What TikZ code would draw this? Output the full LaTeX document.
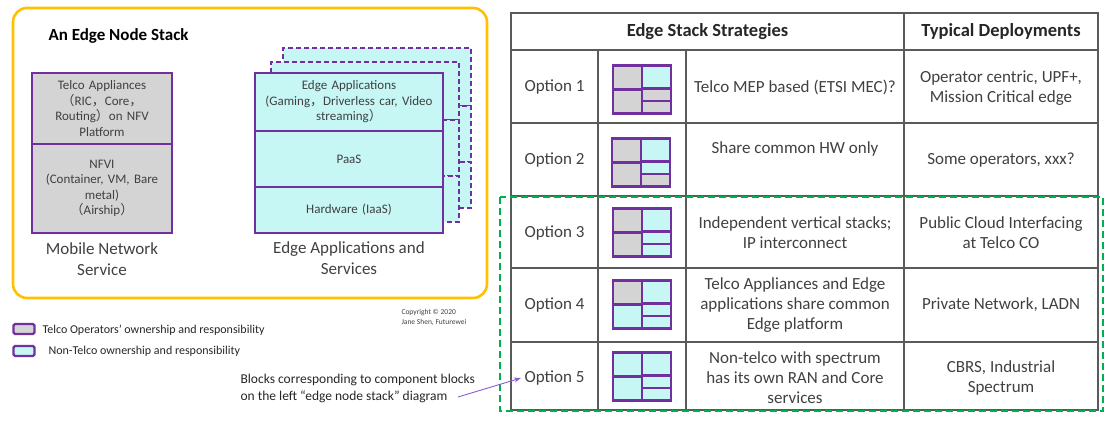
\documentclass[tikz,border=0pt]{standalone}
\usepackage{fontspec}
\setmainfont{Carlito}
\newfontfamily\cjk{Noto Sans CJK SC}
\usepackage{xcolor}
\usepackage{tikz}
\usetikzlibrary{arrows.meta,positioning,calc,backgrounds}

\definecolor{stackpurple}{HTML}{7030A0}
\definecolor{telcogray}{HTML}{D4D4D4}
\definecolor{edgecyan}{HTML}{C6F7F5}
\definecolor{framegold}{HTML}{FFC000}
\definecolor{focusgreen}{HTML}{00B050}
\definecolor{tableline}{HTML}{5A5A5A}
\definecolor{textgray}{HTML}{404040}
\definecolor{textdark}{HTML}{262626}
\definecolor{pointerpurple}{HTML}{8A5CD0}

% full-width punctuation
\newcommand{\fw}[1]{{\cjk #1}}

% small stack icon: centre, then fills of left top, left bottom, right top, right middle, right bottom
\newcommand{\stackicon}[6]{%
  \begin{scope}[shift={#1}]
    \filldraw[iconline, fill=#2] (-29,-24) rectangle (0,0);
    \filldraw[iconline, fill=#3] (-29,0) rectangle (0,24);
    \filldraw[iconline, fill=#4] (0,-24) rectangle (29,-1);
    \filldraw[iconline, fill=#5] (0,-1) rectangle (29,11.5);
    \filldraw[iconline, fill=#6] (0,11.5) rectangle (29,24);
  \end{scope}}

\begin{document}
\begin{tikzpicture}[
    x=1pt, y=-1pt,
    frame/.style={draw=framegold, line width=2.6pt, rounded corners=14pt},
    telco/.style={rectangle, draw=stackpurple, fill=telcogray, line width=2.4pt, minimum width=140pt, text width=132pt, align=center, inner sep=0pt, font=\fontsize{13}{15.5}\selectfont, text=textgray},
    edge/.style={rectangle, draw=stackpurple, fill=edgecyan, line width=2.4pt, minimum width=188pt, text width=180pt, align=center, inner sep=0pt, font=\fontsize{13}{15.5}\selectfont, text=textgray},
    layer/.style={rectangle, draw=stackpurple, fill=edgecyan, line width=2.2pt, dash pattern=on 5pt off 3pt, minimum width=188pt, inner sep=0pt},
    caption/.style={font=\fontsize{17}{20.5}\selectfont, text=textgray, align=center},
    key/.style={rectangle, draw=stackpurple, line width=2.2pt, rounded corners=1.5pt, minimum width=21pt, minimum height=10pt, inner sep=0pt},
    keytext/.style={font=\fontsize{12}{14}\selectfont, anchor=west, text=textdark},
    grid/.style={draw=tableline, line width=1.2pt},
    head/.style={font=\bfseries\fontsize{18.5}{22}\selectfont, text=textdark},
    body/.style={font=\fontsize{17}{20}\selectfont, text=textgray, align=center},
    iconline/.style={draw=stackpurple, line width=2.2pt},
    focus/.style={draw=focusgreen, line width=2.4pt, dash pattern=on 7pt off 4pt},
    pointer/.style={-{Stealth[length=7pt,width=5pt]}, draw=pointerpurple, line width=0.9pt}
]
    \useasboundingbox (0,0) rectangle (1108,423);

    % Edge node stack frame
    \node[frame, minimum width=474pt, minimum height=290pt] (stackframe) at (250,153) {};
    \node[font=\bfseries\fontsize{17}{20}\selectfont, anchor=west] (title) at (45,36) {An Edge Node Stack};

    % Mobile network service stack
    \node[telco, minimum height=71pt] (telcoapp) at (102,108.5)
        {Telco Appliances\\\fw{（}RIC\fw{，}Core\fw{，}\\Routing\fw{）}on NFV\\Platform};
    \node[telco, minimum height=89pt] (nfvi) at (102,188.5)
        {NFVI\\(Container, VM, Bare\\metal)\\\fw{（}Airship\fw{）}};
    \node[caption] (mobilecap) at (102,259) {Mobile Network\\Service};

    % Edge applications stack, front layer
    \node[edge, minimum height=58pt] (apps) at (349,102)
        {Edge Applications\\(Gaming\fw{，}Driverless car, Video\\streaming\fw{）}};
    \node[edge, minimum height=56pt] (paas) at (349,159) {PaaS};
    \node[edge, minimum height=46pt] (iaas) at (349,210) {Hardware (IaaS)};
    \node[caption] (edgecap) at (349,258) {Edge Applications and\\Services};

    % Stacked copies behind
    \begin{scope}[on background layer]
        \node[layer, minimum height=58pt] (apps3) at ($(apps)+(28,-25)$) {};
        \node[layer, minimum height=56pt] (paas3) at ($(paas)+(28,-25)$) {};
        \node[layer, minimum height=46pt] (iaas3) at ($(iaas)+(28,-25)$) {};
        \node[layer, minimum height=58pt] (apps2) at ($(apps)+(16,-11)$) {};
        \node[layer, minimum height=56pt] (paas2) at ($(paas)+(16,-11)$) {};
        \node[layer, minimum height=46pt] (iaas2) at ($(iaas)+(16,-11)$) {};
    \end{scope}

    % Legend
    \node[key, fill=telcogray] (telcokey) at (24,329) {};
    \node[keytext] (telcolabel) at (39,330) {Telco Operators’ ownership and responsibility};
    \node[key, fill=edgecyan] (edgekey) at (24,351) {};
    \node[keytext] (edgelabel) at (45,351) {Non-Telco ownership and responsibility};
    \node[font=\fontsize{7.5}{10}\selectfont, align=left, anchor=west, text=textgray] (copyright) at (398,317)
        {Copyright © 2020\\Jane Shen, Futurewei};

    % Strategy table grid
    \draw[grid] (511,13) rectangle (1098,410);
    \draw[grid] (511,50) -- (1098,50);
    \draw[grid] (511,123) -- (1098,123);
    \draw[grid] (511,196) -- (1098,196);
    \draw[grid] (511,268) -- (1098,268);
    \draw[grid] (511,342) -- (1098,342);
    \draw[grid] (598,50) -- (598,410);
    \draw[grid] (686,50) -- (686,410);
    \draw[grid] (904,13) -- (904,410);

    % Header
    \node[head] (strategies) at (707.5,31.5) {Edge Stack Strategies};
    \node[head] (deployments) at (1001,31.5) {Typical Deployments};

    % Option 1
    \node[body] (opt1) at (554.5,87) {Option 1};
    \stackicon{(642,89.5)}{telcogray}{telcogray}{edgecyan}{telcogray}{telcogray}
    \node[body] (mep) at (795,87) {Telco MEP based (ETSI MEC)?};
    \node[body] (centric) at (1001,88) {Operator centric, UPF+,\\Mission Critical edge};

    % Option 2
    \node[body] (opt2) at (554.5,160) {Option 2};
    \stackicon{(641,162.5)}{telcogray}{telcogray}{edgecyan}{edgecyan}{telcogray}
    \node[body] (sharehw) at (795,149) {Share common HW only};
    \node[body] (someops) at (1001,160) {Some operators, xxx?};

    % Option 3
    \node[body] (opt3) at (554.5,232.5) {Option 3};
    \stackicon{(642,232.5)}{telcogray}{telcogray}{edgecyan}{edgecyan}{edgecyan}
    \node[body] (vertical) at (795,232.5) {Independent vertical stacks;\\IP interconnect};
    \node[body] (cloud) at (1001,232.5) {Public Cloud Interfacing\\at Telco CO};

    % Option 4
    \node[body] (opt4) at (554.5,305) {Option 4};
    \stackicon{(642,304.5)}{telcogray}{edgecyan}{edgecyan}{edgecyan}{edgecyan}
    \node[body] (shared) at (795,305) {Telco Appliances and Edge\\applications share common\\Edge platform};
    \node[body] (private) at (1001,305) {Private Network, LADN};

    % Option 5
    \node[body] (opt5) at (554.5,378) {Option 5};
    \stackicon{(642,376.5)}{edgecyan}{edgecyan}{edgecyan}{edgecyan}{edgecyan}
    \node[body] (nontelco) at (795,377.5) {Non-telco with spectrum\\has its own RAN and Core\\services};
    \node[body] (cbrs) at (1001,377.5) {CBRS, Industrial\\Spectrum};

    % Options 3-5 highlight
    \draw[focus] (500,197) rectangle (1103,411);

    % Note pointing at the icons
    \node[font=\fontsize{13.5}{17}\selectfont, align=left, anchor=west, text=textdark] (note) at (237,388.5)
        {Blocks corresponding to component blocks\\on the left “edge node stack” diagram};
    \coordinate (notetail) at (458,397);
    \draw[pointer] (notetail) -- (opt5.west);
\end{tikzpicture}
\end{document}
